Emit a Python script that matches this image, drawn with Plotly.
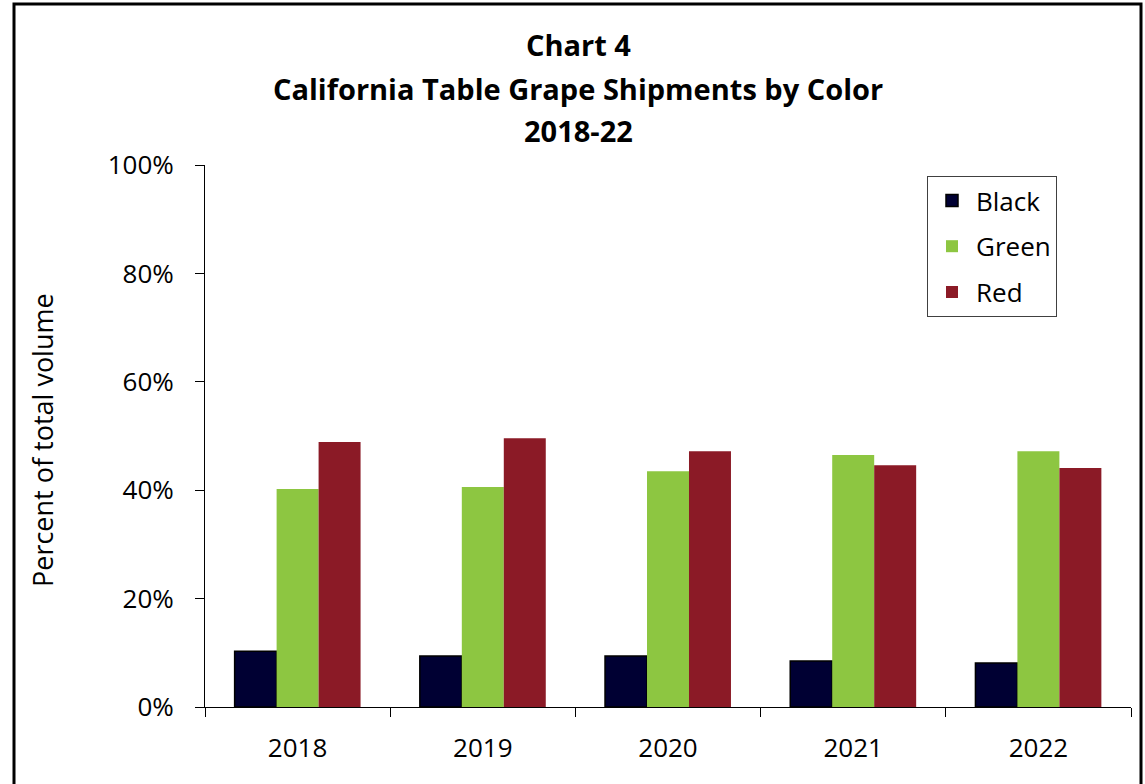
import plotly.graph_objects as go

years = ["2018", "2019", "2020", "2021", "2022"]
black = [10.3, 9.4, 9.4, 8.5, 8.1]
green = [40.2, 40.6, 43.5, 46.5, 47.2]
red = [48.9, 49.6, 47.2, 44.6, 44.1]

title_lines = [
    "Chart 4",
    "California Table Grape Shipments by Color",
    "2018-22",
]

FONT = "'Open Sans', Lato, sans-serif"

fig = go.Figure()

fig.add_trace(go.Bar(
    x=years, y=black, name="Black", legendgroup="a",
    marker=dict(color="#000033", line=dict(color="#000000", width=1.5)),
))
fig.add_trace(go.Bar(
    x=years, y=green, name="Green", legendgroup="b",
    marker=dict(color="#8DC641", line=dict(width=0)),
))
fig.add_trace(go.Bar(
    x=years, y=red, name="Red", legendgroup="c",
    marker=dict(color="#8B1A26", line=dict(width=0)),
))

# page body margin is removed in post_script, so figure sits at 0,0
W, H = 1145, 784
# plot area: x 205..1131, y 165..707
L, T = 205, 165
R, B = W - 1131, H - 707
pw, ph = W - L - R, H - T - B


def px_x(x):
    return (x - L) / pw


def px_y(y):
    return (H - B - y) / ph


annotations = []
for line, y in zip(title_lines, [45, 88, 130]):
    annotations.append(dict(
        text="<b>" + line + "</b>", x=px_x(578), y=px_y(y),
        xref="paper", yref="paper", showarrow=False,
        xanchor="center", yanchor="middle",
        font=dict(family=FONT, size=29, color="black"),
    ))

annotations.append(dict(
    text="Percent of total volume", x=px_x(42), y=px_y(440),
    xref="paper", yref="paper", showarrow=False, textangle=-90,
    xanchor="center", yanchor="middle",
    font=dict(family=FONT, size=27, color="black"),
))

fig.update_layout(
    width=W, height=H,
    margin=dict(l=L, r=R, t=T, b=B),
    paper_bgcolor="white",
    plot_bgcolor="white",
    barmode="group",
    bargap=0.32,
    bargroupgap=0,
    font=dict(family=FONT, size=26, color="black"),
    annotations=annotations,
    legend=dict(
        x=px_x(927), y=px_y(176), xanchor="left", yanchor="top",
        bordercolor="#404040", borderwidth=1, bgcolor="white",
        font=dict(family=FONT, size=26, color="black"),
        tracegroupgap=9, traceorder="grouped",
        itemwidth=38,
    ),
    shapes=[dict(
        type="rect", xref="paper", yref="paper",
        x0=px_x(14), x1=px_x(1141), y0=px_y(800), y1=px_y(4),
        line=dict(color="black", width=3), fillcolor="rgba(0,0,0,0)",
    )],
)

fig.update_xaxes(
    showline=True, linecolor="black", linewidth=1,
    ticks="outside", tickson="boundaries", ticklen=9, tickcolor="black",
    showgrid=False, tickfont=dict(size=26), ticklabelstandoff=18,
)
fig.update_yaxes(
    range=[0, 100], dtick=20, ticksuffix="%",
    showline=True, linecolor="black", linewidth=1,
    ticks="outside", ticklen=9, tickcolor="black",
    showgrid=False, zeroline=False, tickfont=dict(size=26),
    ticklabelstandoff=16,
)

fig.write_html(
    "out.html",
    config={"displayModeBar": False},
    post_script="document.body.style.margin='0';"
                "document.body.style.overflow='hidden';",
)
